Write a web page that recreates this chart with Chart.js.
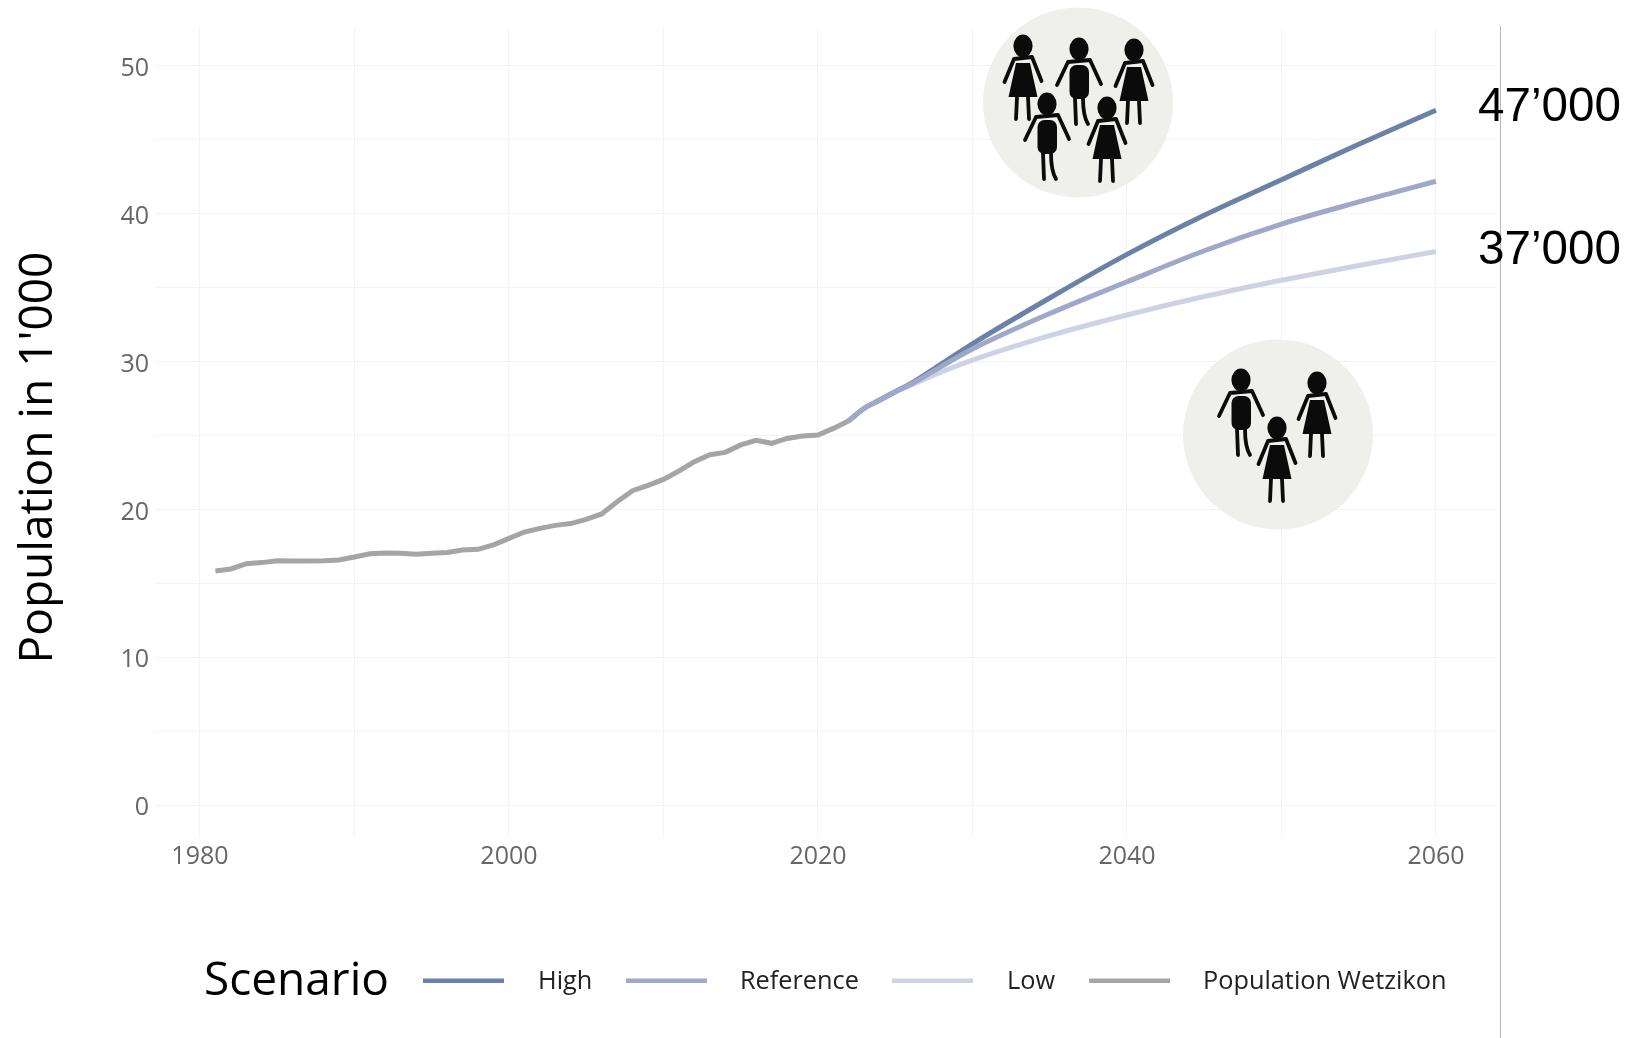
<!DOCTYPE html>
<html>
<head>
<meta charset="utf-8">
<title>Population Wetzikon</title>
<script src="https://cdn.jsdelivr.net/npm/chart.js@4"></script>
<style>
  html, body { margin: 0; padding: 0; background: #fff; }
  canvas { display: block; filter: blur(0.45px); }
</style>
</head>
<body>
<canvas id="popChart" width="1631" height="1038"></canvas>
<script>
// population in 1'000
const historyYears = [1981, 1982, 1983, 1984, 1985, 1986, 1987, 1988, 1989, 1990,
    1991, 1992, 1993, 1994, 1995, 1996, 1997, 1998, 1999, 2000,
    2001, 2002, 2003, 2004, 2005, 2006, 2007, 2008, 2009, 2010,
    2011, 2012, 2013, 2014, 2015, 2016, 2017, 2018, 2019, 2020,
    2021, 2022];
const historyValues = [15.83, 15.97, 16.33, 16.4, 16.53, 16.51, 16.51, 16.53, 16.58, 16.78,
    17.0, 17.05, 17.03, 16.96, 17.03, 17.08, 17.25, 17.3, 17.6, 18.04,
    18.47, 18.72, 18.92, 19.04, 19.33, 19.69, 20.52, 21.27, 21.63, 22.03,
    22.6, 23.23, 23.7, 23.86, 24.36, 24.67, 24.47, 24.8, 24.97, 25.03,
    25.48, 26.0];

const scenarioYears = [2022, 2023, 2024, 2025, 2026, 2028, 2030, 2035, 2040, 2045, 2050, 2055, 2060];
const highValues = [26.0, 26.84, 27.4, 27.96, 28.5, 29.85, 31.2, 34.3, 37.25, 39.9, 42.3, 44.7, 47.0];
const referenceValues = [26.0, 26.84, 27.4, 27.96, 28.45, 29.68, 30.85, 33.25, 35.4, 37.5, 39.3, 40.8, 42.2];
const lowValues = [26.0, 26.84, 27.4, 27.96, 28.4, 29.3, 30.1, 31.75, 33.15, 34.4, 35.5, 36.5, 37.45];

const legendLabels = ["High", "Reference", "Low", "Population Wetzikon"];
const legendColors = ["#6b82a8", "#9ea8c8", "#cdd3e2", "#a5a5a5"];
const endLabels = ["47\u2019000", "37\u2019000"];
const yAxisTitle = "Population in 1'000";
const legendTitle = "Scenario";

function toPoints(xs, ys) {
    return xs.map((x, i) => ({ x: x, y: ys[i] }));
}

// one little person, hx/hy = middle of the head
function drawPerson(ctx, hx, hy, isWoman) {
    ctx.fillStyle = "#0b0b0b";
    ctx.strokeStyle = "#0b0b0b";
    ctx.lineCap = "round";
    ctx.lineJoin = "round";

    ctx.beginPath();
    ctx.ellipse(hx, hy + 1, 9.6, 11.4, 0, 0, Math.PI * 2);
    ctx.fill();

    // arms + shoulders
    let armOut = isWoman ? 18.5 : 22;
    let shoulder = isWoman ? 9 : 11;
    ctx.lineWidth = 3.8;
    ctx.beginPath();
    ctx.moveTo(hx - armOut, hy + 37);
    ctx.lineTo(hx - shoulder, hy + 14);
    ctx.lineTo(hx + shoulder, hy + 12);
    ctx.lineTo(hx + armOut, hy + 36);
    ctx.stroke();

    if (isWoman) {
        ctx.beginPath();
        ctx.moveTo(hx - 7, hy + 18);
        ctx.lineTo(hx + 7, hy + 18);
        ctx.lineTo(hx + 14.5, hy + 52);
        ctx.lineTo(hx - 14.5, hy + 52);
        ctx.closePath();
        ctx.fill();
        ctx.lineWidth = 3.8;
        ctx.beginPath();
        ctx.moveTo(hx - 6, hy + 52);
        ctx.lineTo(hx - 7, hy + 74);
        ctx.moveTo(hx + 5, hy + 52);
        ctx.lineTo(hx + 6, hy + 74);
        ctx.stroke();
    } else {
        ctx.beginPath();
        ctx.roundRect(hx - 9.5, hy + 17, 19.5, 34, 7);
        ctx.fill();
        ctx.lineWidth = 3.8;
        ctx.beginPath();
        ctx.moveTo(hx - 4, hy + 50);
        ctx.lineTo(hx - 3, hy + 76);
        ctx.moveTo(hx + 4, hy + 50);
        ctx.quadraticCurveTo(hx + 4, hy + 68, hx + 9, hy + 76);
        ctx.stroke();
    }
}

function drawGroup(ctx, cx, cy, people) {
    ctx.fillStyle = "#efefec";
    ctx.beginPath();
    ctx.arc(cx, cy, 95, 0, Math.PI * 2);
    ctx.fill();
    people.forEach(p => drawPerson(ctx, p[0], p[1], p[2]));
}

// icons, end labels, axis title, frame line and the legend row
const extras = {
    id: "extras",
    beforeDatasetsDraw(chart) {
        let ctx = chart.ctx;
        ctx.save();
        drawGroup(ctx, 1078, 102.5, [
            [1023, 45, true], [1079, 48, false], [1134, 49, true],
            [1047, 103, false], [1107, 107, true]
        ]);
        drawGroup(ctx, 1278, 434.5, [
            [1241, 379, false], [1317, 382, true], [1277, 427, true]
        ]);
        ctx.restore();
    },
    afterDraw(chart) {
        let ctx = chart.ctx;
        ctx.save();

        ctx.strokeStyle = "#b5b5b5";
        ctx.lineWidth = 1;
        ctx.beginPath();
        ctx.moveTo(1500.5, 26);
        ctx.lineTo(1500.5, 1038);
        ctx.stroke();

        ctx.fillStyle = "#000";
        ctx.textBaseline = "alphabetic";
        ctx.textAlign = "left";
        ctx.font = '47.6px "Liberation Sans"';
        ctx.fillText(endLabels[0], 1478, 121);
        ctx.fillText(endLabels[1], 1478, 264);

        // axis title sits lower than the panel middle, so it is placed by hand
        ctx.save();
        ctx.translate(52, 457.5);
        ctx.rotate(-Math.PI / 2);
        ctx.textAlign = "center";
        ctx.font = '46px "Open Sans"';
        ctx.fillText(yAxisTitle, 0, 0);
        ctx.restore();

        ctx.textBaseline = "middle";
        ctx.font = '46px "Open Sans"';
        ctx.fillText(legendTitle, 204, 982);

        let swatchX = [423, 626, 892, 1089];
        let labelX = [538, 740, 1007, 1203];
        ctx.font = '25.3px "Open Sans"';
        legendLabels.forEach((label, i) => {
            ctx.fillStyle = legendColors[i];
            ctx.fillRect(swatchX[i], 978.5, 81, 4.5);
            ctx.fillStyle = "#222";
            ctx.fillText(label, labelX[i], 982);
        });
        ctx.restore();
    }
};

function lineSet(label, points, color, order, smooth) {
    return {
        label: label,
        data: points,
        borderColor: color,
        borderWidth: 5,
        pointRadius: 0,
        order: order,
        cubicInterpolationMode: smooth ? "monotone" : "default",
        tension: 0,
        fill: false
    };
}

new Chart(document.getElementById("popChart").getContext("2d"), {
    type: "line",
    data: {
        datasets: [
            lineSet(legendLabels[0], toPoints(scenarioYears, highValues), legendColors[0], 2, true),
            lineSet(legendLabels[1], toPoints(scenarioYears, referenceValues), legendColors[1], 1, true),
            lineSet(legendLabels[2], toPoints(scenarioYears, lowValues), legendColors[2], 3, true),
            lineSet(legendLabels[3], toPoints(historyYears, historyValues), legendColors[3], 0, false)
        ]
    },
    options: {
        responsive: false,
        animation: false,
        layout: { padding: { top: 29, right: 134, left: 0, bottom: 0 } },
        plugins: { legend: { display: false }, tooltip: { enabled: false } },
        scales: {
            x: {
                type: "linear",
                min: 1977.09,
                max: 2063.95,
                afterFit(scale) { scale.height = 200; },
                border: { display: false },
                grid: { color: "#f3f3f3", lineWidth: 1, drawTicks: false },
                ticks: {
                    stepSize: 10,
                    includeBounds: false,
                    autoSkip: false,
                    maxRotation: 0,
                    padding: 4,
                    color: "#666",
                    font: { family: "Open Sans", size: 25 },
                    callback: v => (v % 20 === 0 ? String(v) : "")
                }
            },
            y: {
                min: -2.23,
                max: 52.5,
                afterFit(scale) { scale.width = 155; },
                border: { display: false },
                grid: { color: "#f3f3f3", lineWidth: 1, drawTicks: false },
                ticks: {
                    stepSize: 5,
                    includeBounds: false,
                    autoSkip: false,
                    padding: 6,
                    labelOffset: 3,
                    color: "#666",
                    font: { family: "Open Sans", size: 25 },
                    callback: v => (v % 10 === 0 ? String(v) : "")
                }
            }
        }
    },
    plugins: [extras]
});
</script>
</body>
</html>
